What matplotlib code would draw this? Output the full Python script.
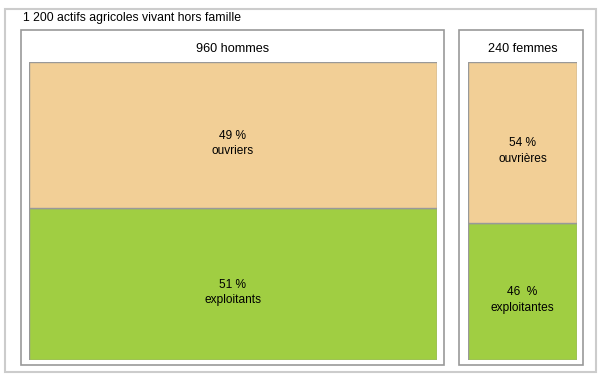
import matplotlib
matplotlib.use('Agg')
import matplotlib.pyplot as plt
from matplotlib.patches import Rectangle
from matplotlib.transforms import offset_copy

plt.rcParams['font.family'] = ['Liberation Sans', 'DejaVu Sans']

title = "1 200 actifs agricoles vivant hors famille"
groups = ["960 hommes", "240 femmes"]
ouvriers = [49, 54]
exploitants = [51, 46]
ouv_labels = ["49 %\nouvriers", "54 %\nouvrières"]
expl_labels = ["51 %\nexploitants", "46  %\nexploitantes"]

tan = '#f2cf96'
green = '#a0ce42'
edge = '#999999'

W, H = 600, 379
fig = plt.figure(figsize=(6, 3.79), dpi=100)

# background axes in pixel coordinates for frames and titles
bg = fig.add_axes([0, 0, 1, 1])
bg.set_xlim(0, W)
bg.set_ylim(H, 0)
bg.axis('off')
bg.add_patch(Rectangle((5, 9), 591, 363, fill=False, ec='#cccccc', lw=1.5))
bg.text(23, 18, title, fontsize=8.8, va='center', ha='left')

boxes = [(21, 444), (459, 583)]
bars = [(28.5, 437), (468, 577)]
for (x0, x1), (b0, b1), g in zip(boxes, bars, groups):
    bg.add_patch(Rectangle((x0, 30), x1 - x0, 335, fill=False, ec=edge, lw=1.2))
    bg.text((b0 + b1) / 2, 49, g, fontsize=9.1, ha='center', va='center')

top, bottom = 62, 360
for i, (b0, b1) in enumerate(bars):
    ax = fig.add_axes([b0 / W, (H - bottom) / H, (b1 - b0) / W, (bottom - top) / H])
    ax.bar(0, exploitants[i], width=1, color=green, edgecolor=edge, lw=1)
    ax.bar(0, ouvriers[i], bottom=exploitants[i], width=1, color=tan, edgecolor=edge, lw=1)
    ax.set_xlim(-0.5, 0.5)
    ax.set_ylim(0, 100)
    ax.axis('off')
    tr = offset_copy(ax.transData, fig=fig, y=-6, units='points')
    ax.text(0, exploitants[i] / 2, expl_labels[i], ha='center', va='center',
            fontsize=8.6, linespacing=1.4, transform=tr)
    ax.text(0, exploitants[i] + ouvriers[i] / 2, ouv_labels[i], ha='center',
            va='center', fontsize=8.6, linespacing=1.4, transform=tr)

fig.savefig('out.png', dpi=100)
